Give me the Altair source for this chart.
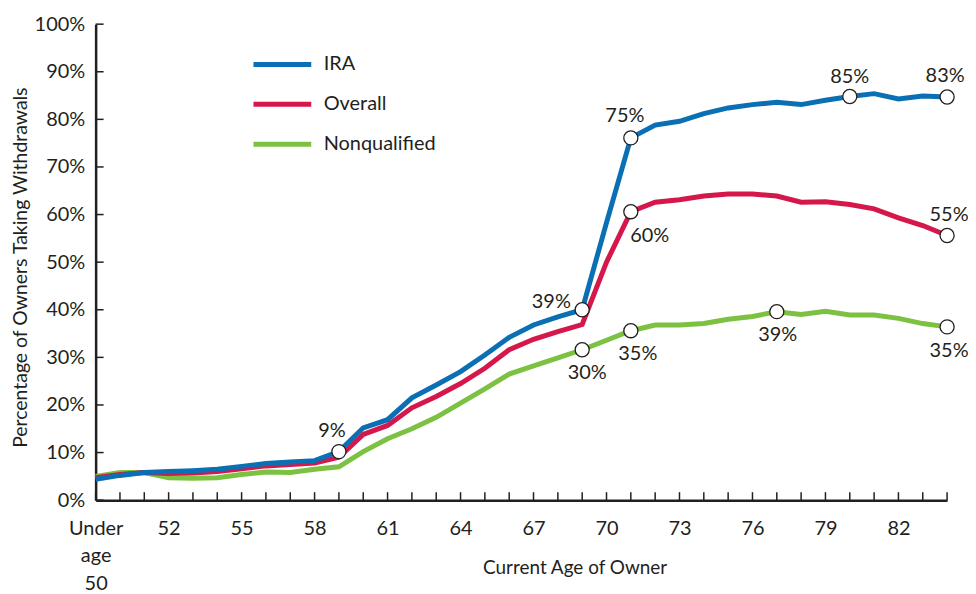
import altair as alt
import pandas as pd

# ---- data ----
ages = list(range(49, 85))  # 49 = "Under age 50"
ira = [4.4, 5.2, 5.8, 6.0, 6.2, 6.5, 7.1, 7.7, 8.0, 8.3,
       10.2, 15.2, 16.9, 21.5, 24.2, 27.0, 30.5, 34.2, 36.8, 38.5,
       40.0, 58.3, 76.1, 78.8, 79.6, 81.2, 82.4, 83.1, 83.6, 83.1,
       84.0, 84.8, 85.4, 84.3, 84.9, 84.7]
overall = [4.7, 5.4, 5.8, 5.6, 5.7, 6.0, 6.6, 7.2, 7.5, 7.8,
           9.0, 13.8, 15.7, 19.4, 21.8, 24.5, 27.7, 31.6, 33.8, 35.4,
           36.9, 50.0, 60.6, 62.6, 63.1, 63.9, 64.3, 64.3, 63.9, 62.6,
           62.7, 62.1, 61.2, 59.3, 57.7, 55.6]
nonq = [5.0, 5.8, 5.8, 4.7, 4.6, 4.7, 5.4, 5.9, 5.8, 6.5,
        7.0, 10.2, 12.9, 15.0, 17.4, 20.4, 23.4, 26.5, 28.2, 29.9,
        31.6, 33.6, 35.6, 36.8, 36.8, 37.1, 38.0, 38.6, 39.6, 39.0,
        39.7, 38.9, 38.9, 38.2, 37.1, 36.4]

series_names = ["IRA", "Overall", "Nonqualified"]
series_colors = ["#0a6fb3", "#d5174b", "#7dc142"]

x_tick_labels = ages[::3]
y_tick_values = list(range(0, 101, 10))

marker_series = ["IRA"] * 5 + ["Overall"] * 2 + ["Nonqualified"] * 4
marker_ages = [59, 69, 71, 80, 84, 71, 84, 69, 71, 77, 84]
marker_text = ["9%", "39%", "75%", "85%", "83%", "60%", "55%", "30%", "35%", "39%", "35%"]
label_dx = [-7, -31, -6, 0, -2, 19, 2, 5, 7, 1, 2]
label_dy = [-21, -8, -22, -20, -21, 24, -21, 23, 23, 23, 24]

# ---- tables ----
vals = {"IRA": ira, "Overall": overall, "Nonqualified": nonq}
rows = []
for name in ["Nonqualified", "Overall", "IRA"]:  # draw order: green, red, blue on top
    for a, v in zip(ages, vals[name]):
        rows.append({"age": a, "value": v, "series": name})
lines_df = pd.DataFrame(rows)

mk_rows = []
for s, a, t in zip(marker_series, marker_ages, marker_text):
    mk_rows.append({"age": a, "value": vals[s][a - ages[0]], "series": s, "label": t})
markers_df = pd.DataFrame(mk_rows)

INK = "#231f20"
W, H = 855, 478
FONT = "Lato"

xenc = alt.X("age:Q",
             scale=alt.Scale(domain=[ages[0], ages[-1]], nice=False, zero=False),
             axis=alt.Axis(values=x_tick_labels,
                           labelExpr="datum.value == 49 ? ['Under', 'age', '50'] : datum.label",
                           labelFontSize=20, labelLineHeight=28, labelPadding=18,
                           labelFlush=False,
                           labelColor=INK, labelFont=FONT,
                           ticks=False, tickSize=0, grid=False,
                           domainColor=INK, domainWidth=2.5,
                           title="Current Age of Owner", titleFontSize=19,
                           titleFontWeight="normal", titleColor=INK, titleFont=FONT,
                           titleX=481, titleY=68, titleBaseline="middle",
                           titleAlign="center"))
yenc = alt.Y("value:Q",
             scale=alt.Scale(domain=[0, 100], nice=False),
             axis=alt.Axis(values=y_tick_values,
                           labelExpr="datum.value + '%'",
                           labelFontSize=20, labelPadding=11, labelColor=INK,
                           labelFont=FONT,
                           ticks=False, tickSize=0, grid=False,
                           domainColor=INK, domainWidth=2.5,
                           title="Percentage of Owners Taking Withdrawals",
                           titleFontSize=19.5, titleFontWeight="normal",
                           titleColor=INK, titleFont=FONT,
                           titleX=-75, titleY=244, titleAngle=-90,
                           titleAlign="center", titleBaseline="middle"))

color = alt.Color("series:N",
                  scale=alt.Scale(domain=series_names, range=series_colors),
                  legend=alt.Legend(orient="none", legendX=175, legendY=28,
                                    title=None, symbolType="M-3,0H3",
                                    symbolSize=374, symbolStrokeWidth=5,
                                    labelFontSize=20, labelFont=FONT,
                                    labelColor=INK, labelOffset=29,
                                    rowPadding=17, padding=0))

lines = alt.Chart(lines_df).mark_line(strokeWidth=5).encode(
    x=xenc, y=yenc, color=color
)

# inward-pointing ticks
xt = alt.Chart(pd.DataFrame({"age": ages})).mark_rule(
    color=INK, strokeWidth=1.5
).encode(x=xenc, y=alt.value(H - 8), y2=alt.value(H))

yt = alt.Chart(pd.DataFrame({"value": y_tick_values})).mark_rule(
    color=INK, strokeWidth=1.5
).encode(y=yenc, x=alt.value(0), x2=alt.value(8))

points = alt.Chart(markers_df).mark_point(
    shape="circle", filled=True, fill="white", stroke=INK, strokeWidth=1.3,
    size=200, opacity=1
).encode(x=xenc, y=yenc)

texts = []
for i in range(len(marker_text)):
    texts.append(
        alt.Chart(markers_df.iloc[[i]]).mark_text(
            dx=label_dx[i], dy=label_dy[i], fontSize=20, font=FONT,
            color=INK, align="center", baseline="middle"
        ).encode(x=xenc, y=yenc, text="label:N")
    )

chart = alt.layer(lines, xt, yt, points, *texts).properties(
    width=W, height=H,
    padding={"left": 88, "top": 15, "right": 21, "bottom": 92},
    autosize=alt.AutoSizeParams(type="none"),
    background="white"
).configure_view(stroke=None)

chart.save("out.html", embed_options={"renderer": "svg", "actions": False})
